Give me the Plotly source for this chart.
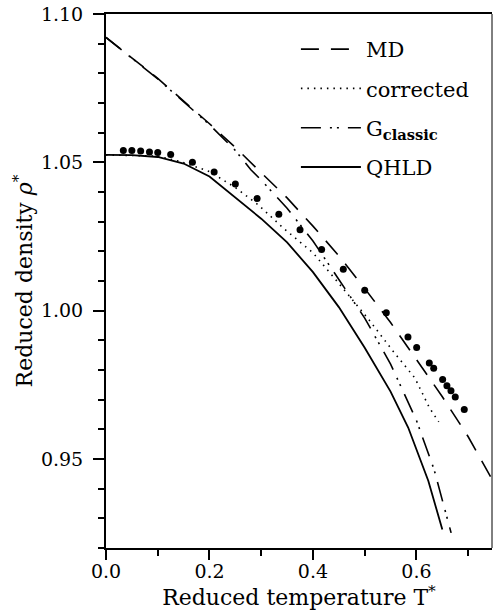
import plotly.graph_objects as go

# ---- data ----
dots_T = [0.0335, 0.050, 0.067, 0.084, 0.100, 0.125, 0.167, 0.209, 0.250, 0.292,
          0.334, 0.375, 0.4167, 0.4586, 0.500, 0.5417, 0.5836, 0.6004, 0.6248,
          0.6333, 0.6506, 0.6589, 0.6667, 0.6750, 0.6924]
dots_rho = [1.0540, 1.0540, 1.0538, 1.0535, 1.0533, 1.0526, 1.0500, 1.0467, 1.0427,
            1.0378, 1.0325, 1.0273, 1.0206, 1.0140, 1.0069, 0.9993, 0.9911, 0.9876,
            0.9824, 0.9806, 0.9768, 0.9747, 0.9730, 0.9709, 0.9667]

md_T = [0.0, 0.1, 0.2, 0.25, 0.30, 0.35, 0.40, 0.45, 0.50, 0.55, 0.60, 0.65, 0.70, 0.745]
md_rho = [1.0921, 1.0783, 1.0630, 1.0550, 1.0465, 1.0380, 1.0285, 1.0185, 1.0075,
          0.9960, 0.9835, 0.9710, 0.9575, 0.9435]

corr_T = [0.0, 0.1, 0.143, 0.2, 0.25, 0.294, 0.343, 0.40, 0.45, 0.507, 0.555, 0.597,
          0.625, 0.643]
corr_rho = [1.0525, 1.0521, 1.0503, 1.0469, 1.0415, 1.0357, 1.0278, 1.0195, 1.0092,
            0.9972, 0.9863, 0.9773, 0.9673, 0.9625]

gcl_T = [0.0, 0.1, 0.2, 0.25, 0.28, 0.30, 0.35, 0.40, 0.45, 0.50, 0.55, 0.60, 0.634, 0.667]
gcl_rho = [1.0921, 1.0781, 1.0627, 1.0540, 1.0475, 1.0440, 1.0345, 1.0235, 1.0105,
           0.9975, 0.9820, 0.9630, 0.9465, 0.9251]

qhld_T = [0.0, 0.05, 0.1, 0.15, 0.2, 0.25, 0.30, 0.35, 0.40, 0.45, 0.50, 0.55, 0.584,
          0.623, 0.65]
qhld_rho = [1.0525, 1.0524, 1.0518, 1.0496, 1.0452, 1.0380, 1.0310, 1.0230, 1.0130,
            1.0012, 0.9875, 0.9727, 0.9606, 0.9426, 0.9262]

x_ticks = [0.0, 0.2, 0.4, 0.6]
y_ticks = [0.95, 1.00, 1.05, 1.10]

FONT = "DejaVu Serif"

fig = go.Figure()
fig.add_trace(go.Scatter(x=md_T, y=md_rho, mode="lines", name="MD",
                         line=dict(color="black", width=1.6, dash="18px,12px"),
                         legendgroup="a"))
fig.add_trace(go.Scatter(x=corr_T, y=corr_rho, mode="lines", name="corrected",
                         line=dict(color="black", width=1.6, dash="1.5px,5px"),
                         legendgroup="b"))
fig.add_trace(go.Scatter(x=gcl_T, y=gcl_rho, mode="lines", name="G<sub><b>classic</b></sub>",
                         line=dict(color="black", width=1.6,
                                   dash="20px,9px,2px,5px,2px,9px"),
                         legendgroup="c"))
fig.add_trace(go.Scatter(x=qhld_T, y=qhld_rho, mode="lines", name="QHLD",
                         line=dict(color="black", width=1.8),
                         legendgroup="d"))
fig.add_trace(go.Scatter(x=dots_T, y=dots_rho, mode="markers", showlegend=False,
                         marker=dict(color="black", size=7)))

fig.update_layout(
    width=493, height=614,
    margin=dict(l=106, r=1, t=14, b=66),
    paper_bgcolor="white", plot_bgcolor="white",
    font=dict(family=FONT, color="black", size=19),
    legend=dict(x=0.492, y=0.972, xanchor="left", yanchor="top",
                bgcolor="rgba(0,0,0,0)", font=dict(size=21, family=FONT),
                tracegroupgap=9, itemwidth=60),
    showlegend=True,
)
fig.update_xaxes(range=[0, 0.746], tickvals=x_ticks, tickformat=".1f",
                 showgrid=False, zeroline=False,
                 showline=True, linecolor="black", linewidth=2, mirror=True,
                 ticks="outside", ticklen=10, tickwidth=1.5, tickcolor="black",
                 ticklabelstandoff=-5,
                 minor=dict(dtick=0.1, tick0=0, ticks="outside", ticklen=6,
                            tickwidth=1.5, tickcolor="black", showgrid=False),
                 title=dict(text="Reduced temperature T<sup>*</sup>", standoff=2,
                            font=dict(size=22)))
fig.update_yaxes(range=[0.92, 1.10], tickvals=y_ticks, tickformat=".2f",
                 showgrid=False, zeroline=False,
                 showline=True, linecolor="black", linewidth=2, mirror=False,
                 ticks="outside", ticklen=11, tickwidth=1.5, tickcolor="black",
                 ticklabelstandoff=6,
                 minor=dict(dtick=0.01, tick0=0.92, ticks="outside", ticklen=6,
                            tickwidth=1.5, tickcolor="black", showgrid=False),
                 title=dict(text="Reduced density <i>ρ</i><sup>*</sup>", standoff=2,
                            font=dict(size=22)))
fig.add_shape(type="line", xref="paper", yref="paper", x0=1, x1=1, y0=0, y1=1,
              line=dict(color="black", width=1))

fig.write_html("out.html")
